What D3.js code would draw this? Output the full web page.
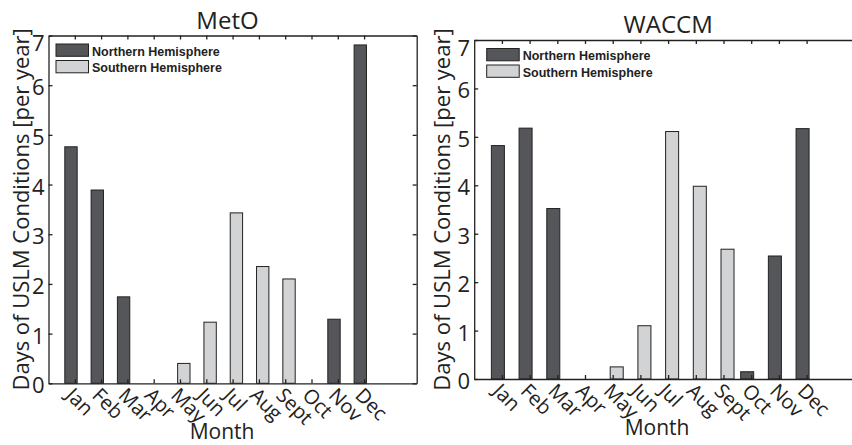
<!DOCTYPE html>
<html>
<head>
<meta charset="utf-8">
<script src="https://cdn.jsdelivr.net/npm/d3@7"></script>
<style>
  body { margin: 0; background: #fff; }
  svg { display: block; }
</style>
</head>
<body>
<svg id="chart" width="852" height="445"></svg>
<script>
// Chart data
const months = ['Jan', 'Feb', 'Mar', 'Apr', 'May', 'Jun', 'Jul', 'Aug', 'Sept', 'Oct', 'Nov', 'Dec'];
const yTicks = [0, 1, 2, 3, 4, 5, 6, 7];
const seriesNames = ['Northern Hemisphere', 'Southern Hemisphere'];

const metoNorth = [4.76, 3.89, 1.74, 0, 0, 0, 0, 0, 0, 0, 1.29, 6.81];
const metoSouth = [0, 0, 0, 0, 0.40, 1.23, 3.43, 2.35, 2.10, 0, 0, 0];
const waccmNorth = [4.82, 5.18, 3.52, 0, 0, 0, 0, 0, 0, 0.15, 2.54, 5.17];
const waccmSouth = [0, 0, 0, 0, 0.25, 1.10, 5.11, 3.98, 2.68, 0, 0, 0];

const COLORS = ['#55565a', '#d2d3d5'];
const INK = '#222';
const LABEL_FONT = '"Open Sans", sans-serif';

const svg = d3.select('#chart');

// Draws one bar-chart panel
function drawPanel(cfg) {
  const g = svg.append('g');

  const xScale = d3.scaleLinear().domain([0, 14]).range([cfg.left, cfg.right]);
  const yScale = d3.scaleLinear().domain([0, 7]).range([cfg.bottom, cfg.top]);
  const unit = xScale(1) - xScale(0);
  const barW = 0.47 * unit;
  const offsets = [-0.145, 0.145];

  // Bars, one group per series
  [cfg.north, cfg.south].forEach((vals, s) => {
    g.append('g').selectAll('rect')
      .data(vals.map((v, i) => ({ v, i })).filter(d => d.v > 0))
      .join('rect')
      .attr('x', d => xScale(d.i + 1 + offsets[s]) - barW / 2)
      .attr('y', d => yScale(d.v))
      .attr('width', barW)
      .attr('height', d => yScale(0) - yScale(d.v))
      .attr('fill', COLORS[s])
      .attr('stroke', INK)
      .attr('stroke-width', 1);
  });

  // Axes with inward ticks on all four sides (MATLAB box style)
  const xTickVals = d3.range(1, 13);
  g.append('g')
    .attr('transform', `translate(0, ${cfg.bottom})`)
    .call(d3.axisTop(xScale).tickValues(xTickVals).tickSize(4).tickSizeOuter(0).tickFormat(''));
  g.append('g')
    .attr('transform', `translate(0, ${cfg.top})`)
    .call(d3.axisBottom(xScale).tickValues(xTickVals).tickSize(4).tickSizeOuter(0).tickFormat(''));
  g.append('g')
    .attr('transform', `translate(${cfg.left}, 0)`)
    .call(d3.axisRight(yScale).tickValues(yTicks).tickSize(4).tickSizeOuter(0).tickFormat(''));
  g.append('g')
    .attr('transform', `translate(${cfg.right}, 0)`)
    .call(d3.axisLeft(yScale).tickValues(yTicks).tickSize(4).tickSizeOuter(0).tickFormat(''));
  g.selectAll('.domain, .tick line')
    .attr('stroke', INK)
    .attr('stroke-width', 1.3);

  // Y tick labels (top one kept inside the frame)
  g.append('g').selectAll('text')
    .data(yTicks)
    .join('text')
    .attr('x', cfg.left - 4)
    .attr('y', d => Math.max(yScale(d) + 10, cfg.top + 15.5))
    .attr('text-anchor', 'end')
    .attr('font-family', LABEL_FONT)
    .attr('font-size', 22)
    .attr('fill', INK)
    .text(d => d);

  // Rotated month labels
  g.append('g').selectAll('text')
    .data(months)
    .join('text')
    .attr('transform', (d, i) => `translate(${xScale(i + 1)}, ${cfg.bottom + 3}) rotate(45)`)
    .attr('dy', '0.72em')
    .attr('font-family', LABEL_FONT)
    .attr('font-size', 20)
    .attr('fill', INK)
    .text(d => d);

  // Title and axis labels
  g.append('text')
    .attr('x', cfg.titleX)
    .attr('y', cfg.top - 7)
    .attr('text-anchor', 'middle')
    .attr('font-family', LABEL_FONT)
    .attr('font-size', 24)
    .attr('fill', INK)
    .text(cfg.title);

  g.append('text')
    .attr('x', xScale(6.6))
    .attr('y', cfg.bottom + 56)
    .attr('text-anchor', 'middle')
    .attr('font-family', LABEL_FONT)
    .attr('font-size', 21)
    .attr('fill', INK)
    .text('Month');

  g.append('text')
    .attr('transform', `translate(${cfg.left - cfg.yLabelGap}, ${(cfg.top + cfg.bottom) / 2}) rotate(-90)`)
    .attr('text-anchor', 'middle')
    .attr('font-family', LABEL_FONT)
    .attr('font-size', 22)
    .attr('fill', INK)
    .text('Days of USLM Conditions [per year]');

  // Legend (no box)
  const legend = g.append('g')
    .attr('transform', `translate(${cfg.left + cfg.legendDx}, ${cfg.top + 8.5})`);
  seriesNames.forEach((name, s) => {
    legend.append('rect')
      .attr('x', 0)
      .attr('y', s * 16.5)
      .attr('width', 32.5)
      .attr('height', 12.3)
      .attr('fill', COLORS[s])
      .attr('stroke', INK)
      .attr('stroke-width', 1);
    legend.append('text')
      .attr('x', 36)
      .attr('y', s * 16.5 + 11.5)
      .attr('font-family', '"Liberation Sans", Arial, sans-serif')
      .attr('font-weight', 'bold')
      .attr('font-size', 12.5)
      .attr('fill', INK)
      .text(name);
  });
}

drawPanel({
  title: 'MetO', north: metoNorth, south: metoSouth,
  left: 48.5, right: 416.7, top: 35.5, bottom: 383.3,
  titleX: 227.5, yLabelGap: 19.2, legendDx: 7.5
});

drawPanel({
  title: 'WACCM', north: waccmNorth, south: waccmSouth,
  left: 474.2, right: 862, top: 40, bottom: 379,
  titleX: 668.2, yLabelGap: 24.2, legendDx: 12.5
});
</script>
</body>
</html>
